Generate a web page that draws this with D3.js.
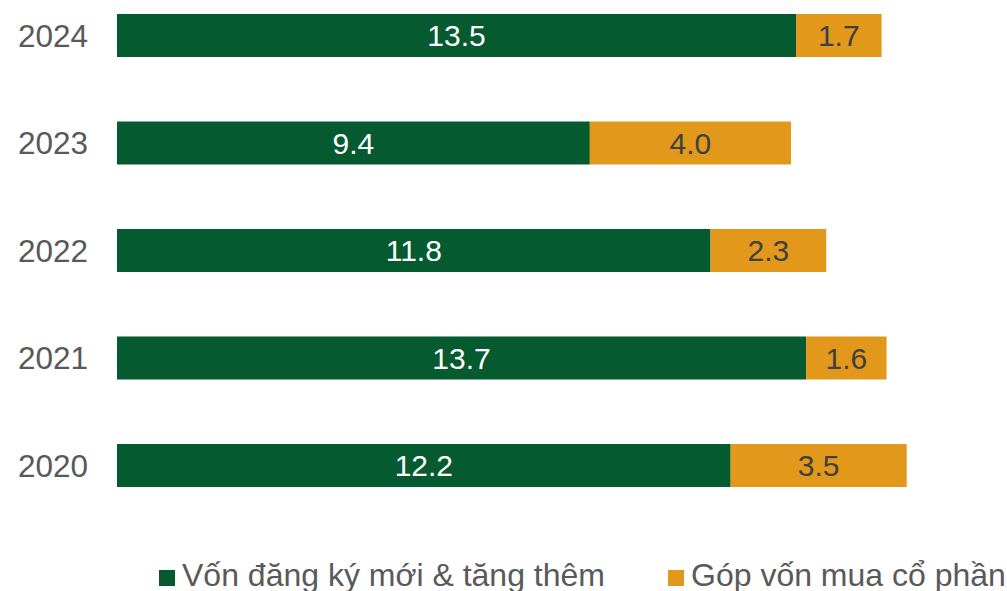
<!DOCTYPE html>
<html>
<head>
<meta charset="utf-8">
<script src="https://cdn.jsdelivr.net/npm/d3@7"></script>
<style>
  body { margin: 0; background: #fff; }
  text { font-family: "Liberation Sans", Arial, sans-serif; }
</style>
</head>
<body>
<div id="chart"></div>
<script>
// data, top bar first
const years = ["2024", "2023", "2022", "2021", "2020"];
const newCapital = [13.5, 9.4, 11.8, 13.7, 12.2];
const shareCapital = [1.7, 4.0, 2.3, 1.6, 3.5];
const seriesNames = ["Vốn đăng ký mới & tăng thêm", "Góp vốn mua cổ phần"];
const seriesColors = ["#055a2f", "#e2981a"];
const labelColors = ["#ffffff", "#404040"];

const width = 1007, height = 591;

const svg = d3.select("#chart").append("svg")
    .attr("width", width)
    .attr("height", height);

const x = d3.scaleLinear().domain([0, 18]).range([117, 117 + 18 * 50.3]);
const y = d3.scaleBand().domain(years).range([-18.25, 519.25])
    .paddingInner(0.6).paddingOuter(0.3);

const rows = years.map((yr, i) => ({ year: yr, values: [newCapital[i], shareCapital[i]] }));
const stack = d3.stack().keys([0, 1]).value((d, k) => d.values[k]);
const layers = stack(rows);

const groups = svg.selectAll("g.layer")
    .data(layers)
    .join("g")
    .attr("class", "layer");

groups.selectAll("rect")
    .data(d => d)
    .join("rect")
    .attr("x", d => x(d[0]))
    .attr("y", d => y(d.data.year))
    .attr("width", d => x(d[1]) - x(d[0]))
    .attr("height", y.bandwidth())
    .attr("fill", (d, i, n) => seriesColors[d3.select(n[i].parentNode).datum().key]);

groups.each(function(layer) {
    d3.select(this).selectAll("text")
        .data(layer)
        .join("text")
        .attr("x", d => (x(d[0]) + x(d[1])) / 2)
        .attr("y", d => y(d.data.year) + y.bandwidth() / 2)
        .attr("dy", "0.36em")
        .attr("text-anchor", "middle")
        .attr("font-size", 30)
        .attr("fill", labelColors[layer.key])
        .text(d => d.data.values[layer.key].toFixed(1));
});

// year labels
svg.append("g").selectAll("text")
    .data(years)
    .join("text")
    .attr("x", 88)
    .attr("y", d => y(d) + y.bandwidth() / 2)
    .attr("dy", "0.36em")
    .attr("text-anchor", "end")
    .attr("font-size", 31.5)
    .attr("fill", "#595959")
    .text(d => d);

// legend
const legendX = [159, 668];
const legend = svg.append("g").selectAll("g")
    .data(seriesNames)
    .join("g")
    .attr("transform", (d, i) => `translate(${legendX[i]},570)`);

legend.append("rect")
    .attr("width", 16)
    .attr("height", 16)
    .attr("fill", (d, i) => seriesColors[i]);

legend.append("text")
    .attr("x", 23)
    .attr("y", 16)
    .attr("font-size", 32)
    .attr("fill", "#595959")
    .text(d => d);
</script>
</body>
</html>
